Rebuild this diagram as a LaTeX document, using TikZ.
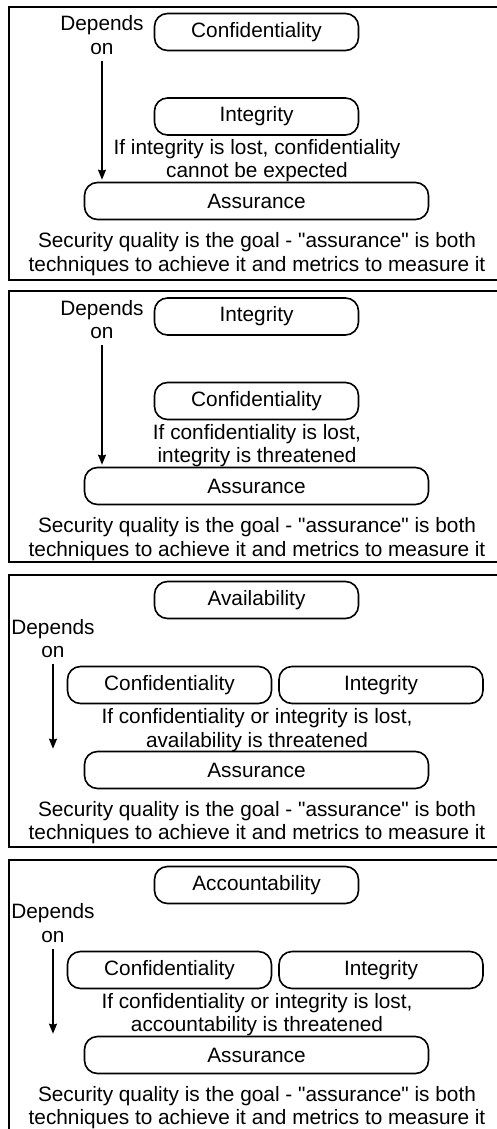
\documentclass[tikz,border=0pt]{standalone}
\usepackage{fontspec}
\setmainfont{Liberation Sans}
\usetikzlibrary{arrows.meta}
\newcommand{\sq}{\textquotedbl}
\begin{document}
\begin{tikzpicture}[x=1pt,y=-1pt,
  frame/.style={draw,line width=1.8pt},
  pill/.style={draw,line width=1.6pt,rounded corners=13pt,minimum height=37pt,
    inner sep=0pt,font=\fontsize{20.8}{23.5}\selectfont},
  narrowpill/.style={pill,minimum width=204pt},
  widepill/.style={pill,minimum width=344pt},
  label/.style={align=center,inner sep=0pt,font=\fontsize{20.8}{23.5}\selectfont},
  dependline/.style={line width=1.6pt,-{Stealth[length=10pt,width=8pt,inset=1pt]},
    shorten <=6pt,shorten >=2pt}]
\useasboundingbox (0,0) rectangle (497,1129);

% ---------- Confidentiality ----------
\draw[frame] (9,7) rectangle (520,280);
\node[label] (dep1) at (102,35) {Depends\\on};
\node[narrowpill] (conf1) at (256.5,32) {Confidentiality};
\node[narrowpill] (integ1) at (256.5,116.5) {Integrity};
\node[label] (note1) at (257,160.5) {If integrity is lost, confidentiality\\cannot be expected};
\node[widepill] (asr1) at (256.5,201) {Assurance};
\node[label] (goal1) at (257,254) {Security quality is the goal - \sq assurance\sq{} is both\\techniques to achieve it and metrics to measure it};
\draw[dependline] (dep1.south) -- (dep1.south |- asr1.north);

% ---------- Integrity ----------
\draw[frame] (9,291) rectangle (520,562);
\node[label] (dep2) at (102,319.5) {Depends\\on};
\node[narrowpill] (integ2) at (256.5,316.5) {Integrity};
\node[narrowpill] (conf2) at (256.5,401) {Confidentiality};
\node[label] (note2) at (257,445.5) {If confidentiality is lost,\\integrity is threatened};
\node[widepill] (asr2) at (256.5,486) {Assurance};
\node[label] (goal2) at (257,539) {Security quality is the goal - \sq assurance\sq{} is both\\techniques to achieve it and metrics to measure it};
\draw[dependline] (dep2.south) -- (dep2.south |- asr2.north);

% ---------- Availability ----------
\draw[frame] (9,575) rectangle (520,847);
\node[narrowpill] (avail3) at (256.5,600) {Availability};
\node[label] (dep3) at (53,638.5) {Depends\\on};
\node[narrowpill] (conf3) at (169.5,685) {Confidentiality};
\node[narrowpill] (integ3) at (381,685) {Integrity};
\node[label] (note3) at (257,730) {If confidentiality or integrity is lost,\\availability is threatened};
\node[widepill] (asr3) at (256.5,770) {Assurance};
\node[label] (goal3) at (257,822.5) {Security quality is the goal - \sq assurance\sq{} is both\\techniques to achieve it and metrics to measure it};
\draw[dependline] (dep3.south) -- (dep3.south |- asr3.north);

% ---------- Accountability ----------
\draw[frame] (9,860) rectangle (520,1160);
\node[narrowpill] (acct4) at (256.5,885) {Accountability};
\node[label] (dep4) at (53,923) {Depends\\on};
\node[narrowpill] (conf4) at (169.5,970) {Confidentiality};
\node[narrowpill] (integ4) at (381,970) {Integrity};
\node[label] (note4) at (257,1014.5) {If confidentiality or integrity is lost,\\accountability is threatened};
\node[widepill] (asr4) at (256.5,1055) {Assurance};
\node[label] (goal4) at (257,1107.5) {Security quality is the goal - \sq assurance\sq{} is both\\techniques to achieve it and metrics to measure it};
\draw[dependline] (dep4.south) -- (dep4.south |- asr4.north);
\end{tikzpicture}
\end{document}
